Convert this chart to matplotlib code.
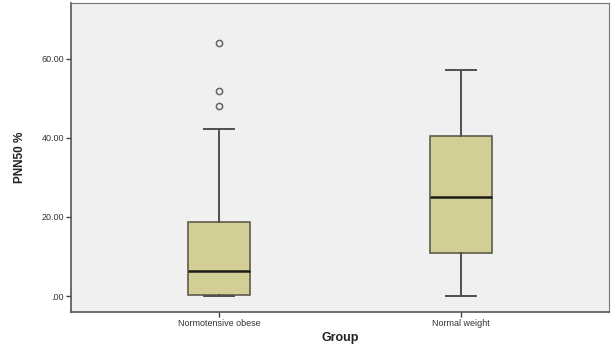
import matplotlib
matplotlib.use("Agg")
import matplotlib.pyplot as plt
from matplotlib.ticker import FuncFormatter

plt.rcParams['font.family'] = ['Liberation Sans', 'DejaVu Sans']

# summary stats
groups = ['Normotensive obese', 'Normal weight']
q1 = [0.4, 10.9]
med = [6.4, 25.0]
q3 = [18.7, 40.4]
wlo = [0.0, 0.0]
whi = [42.2, 57.2]
fliers = [[63.8, 51.9, 48.1], []]

stats = []
for i in range(len(groups)):
    stats.append(dict(label=groups[i], q1=q1[i], med=med[i], q3=q3[i],
                      whislo=wlo[i], whishi=whi[i], fliers=fliers[i]))

fig = plt.figure(figsize=(6.11, 3.49), dpi=100)
ax = fig.add_axes([0.117, 0.107, 0.879, 0.883])
ax.set_facecolor('#f0f0f0')

ax.bxp(stats, positions=[1, 2], widths=0.255, patch_artist=True,
       boxprops=dict(facecolor='#d3ce96', edgecolor='#5e5c4c', linewidth=1.2),
       medianprops=dict(color='#1a1a14', linewidth=1.8),
       whiskerprops=dict(color='#4f4f4f', linewidth=1.4),
       capprops=dict(color='#4f4f4f', linewidth=1.4),
       capwidths=0.125,
       flierprops=dict(marker='o', markersize=4.5, markerfacecolor='none',
                       markeredgecolor='#666666', markeredgewidth=1.1))

ax.set_xlim(0.39, 2.61)
ax.set_ylim(-3.9, 73.9)
ax.set_yticks([0, 20, 40, 60])
ax.yaxis.set_major_formatter(FuncFormatter(lambda v, p: '.00' if v == 0 else '%.2f' % v))

for s in ['left', 'bottom']:
    ax.spines[s].set_color('#555555')
    ax.spines[s].set_linewidth(1.2)
for s in ['top', 'right']:
    ax.spines[s].set_color('#777777')
    ax.spines[s].set_linewidth(0.8)

ax.tick_params(axis='both', colors='#444444', labelsize=6.5, length=3.5, width=1, pad=2)
ax.tick_params(axis='both', labelcolor='#333333')

ax.set_xlabel('Group', fontsize=9, fontweight='bold', color='#222222', labelpad=3)
ax.set_ylabel('PNN50 %', fontsize=8.5, fontweight='bold', color='#222222', labelpad=11)

fig.savefig('out.png', dpi=100, facecolor='white')
